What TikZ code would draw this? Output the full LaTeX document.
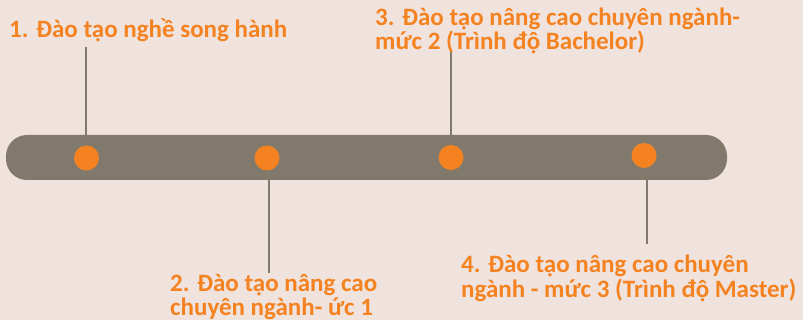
\documentclass[tikz,border=0pt]{standalone}
\usepackage{fontspec}
\setmainfont{Carlito}
\definecolor{bgc}{HTML}{F0E3DE}
\definecolor{barc}{HTML}{817A6C}
\definecolor{orc}{HTML}{F58220}
\tikzset{
  barshape/.style={fill=barc, draw=none, rounded corners=21pt, minimum width=721pt, minimum height=45pt, inner sep=0pt},
  dotshape/.style={circle, fill=orc, draw=none, minimum size=25pt, inner sep=0pt},
  lbl/.style={text=orc, font=\fontsize{25}{24.5}\selectfont\bfseries, align=left, inner sep=0pt, anchor=base west},
  conn/.style={draw=barc, line width=2pt}
}
\begin{document}
\begin{tikzpicture}[x=1pt,y=-1pt]
\fill[bgc] (0,0) rectangle (803,320);
\useasboundingbox (0,0) rectangle (803,320);
\node[barshape] (bar) at (366.5,157.5) {};
\node[dotshape] (d1) at (86.5,158) {};
\node[dotshape] (d2) at (267,158) {};
\node[dotshape] (d3) at (451,157.5) {};
\node[dotshape] (d4) at (644,155.5) {};
\node[lbl] (t1) at (9,38) {1. Đào tạo nghề song hành};
\node[lbl] (t3) at (375,50) {3. Đào tạo nâng cao chuyên ngành-\\mức 2 (Trình độ Bachelor)};
\node[lbl] (t2) at (170,316) {2. Đào tạo nâng cao\\chuyên ngành- ức 1};
\node[lbl] (t4) at (461,297.5) {4. Đào tạo nâng cao chuyên\\ngành - mức 3 (Trình độ Master)};
\coordinate (c1) at (86,47);
\coordinate (c3) at (451,52);
\coordinate (c2) at (269,273);
\coordinate (c4) at (647,244);
\draw[conn] (bar.north -| c1) -- (c1);
\draw[conn] (bar.north -| c3) -- (c3);
\draw[conn] (bar.south -| c2) -- (c2);
\draw[conn] (bar.south -| c4) -- (c4);
\end{tikzpicture}
\end{document}
